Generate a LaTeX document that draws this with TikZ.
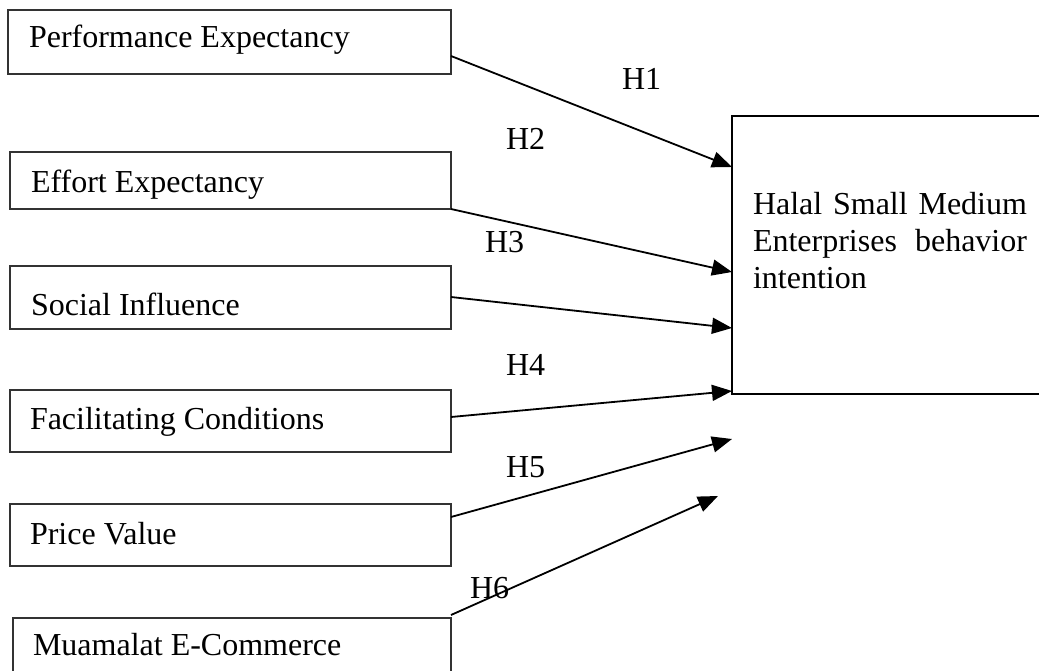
\documentclass[tikz,border=0pt]{standalone}
\usepackage{fontspec}
\setmainfont{Liberation Serif}
\usetikzlibrary{arrows.meta,calc}
\tikzset{
  inbox/.style={draw=black!80, line width=1.1pt, inner sep=0pt, outer sep=0pt, anchor=north west, minimum width=441pt},
  bigbox/.style={draw=black, line width=1.7pt, inner sep=0pt, outer sep=0pt, anchor=north west},
  lbl/.style={inner sep=0pt, outer sep=0pt, anchor=base west, font=\fontsize{32}{36.6}\selectfont},
  arr/.style={line width=1.8pt, -{Triangle[length=20pt,width=16pt]}}
}
\begin{document}
\begin{tikzpicture}[x=1pt,y=-1pt]
\useasboundingbox[fill=white] (0,0) rectangle (1039,671);
% left boxes
\node[inbox, minimum width=443pt, minimum height=64pt] (pe) at (8,10) {};
\node[inbox, minimum height=57pt] (ee) at (10,152) {};
\node[inbox, minimum height=63pt] (si) at (10,266) {};
\node[inbox, minimum height=62pt] (fc) at (10,390) {};
\node[inbox, minimum height=62pt] (pv) at (10,504) {};
\node[inbox, minimum width=438pt, minimum height=90pt] (mc) at (13,618) {};
% texts
\node[lbl] (pet) at (29,48) {Performance Expectancy};
\node[lbl] (eet) at (31,193) {Effort Expectancy};
\node[lbl] (sit) at (31,315) {Social Influence};
\node[lbl] (fct) at (30,429) {Facilitating Conditions};
\node[lbl] (pvt) at (30,544) {Price Value};
\node[lbl] (mct) at (33,655) {Muamalat E-Commerce};
% big box
\node[bigbox, minimum width=320pt, minimum height=278pt] (hb) at (732,116) {};
\node[lbl] (hbt) at (753,215) {\parbox[t]{274pt}{\fontsize{32}{36.6}\selectfont Halal Small Medium Enterprises behavior intention}};
% arrows
\draw[arr] ($(pe.north east)+(0,46)$) -- ($(hb.north west)+(0,51)$);
\draw[arr] (ee.south east) -- ($(hb.north west)+(0,156)$);
\draw[arr] ($(si.north east)+(0,31)$) -- ($(hb.north west)+(0,212)$);
\draw[arr] ($(fc.north east)+(0,27)$) -- ($(hb.north west)+(0,275)$);
\coordinate (pvend) at ($(hb.north west)+(0,323)$);
\coordinate (mcend) at ($(hb.north west)+(-14,380)$);
\draw[arr] ($(pv.north east)+(0,13)$) -- (pvend);
\draw[arr] ($(mc.north east)+(0,-3)$) -- (mcend);
% hypothesis labels
\node[lbl] (h1) at (622,90) {H1};
\node[lbl] (h2) at (506,150) {H2};
\node[lbl] (h3) at (485,253) {H3};
\node[lbl] (h4) at (506,375) {H4};
\node[lbl] (h5) at (506,477) {H5};
\node[lbl] (h6) at (470,598) {H6};
\end{tikzpicture}
\end{document}
